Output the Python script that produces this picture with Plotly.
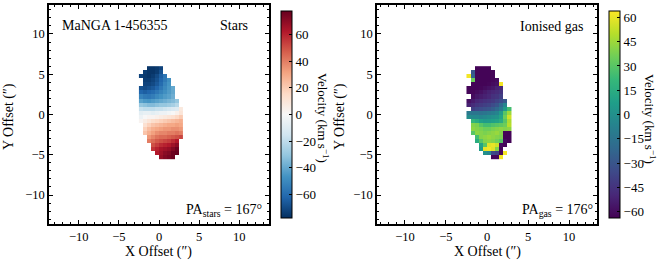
import plotly.graph_objects as go

N = None
# spaxel centres (arcsec)
X_OFFSETS = [-2.25, -1.75, -1.25, -0.75, -0.25, 0.25, 0.75, 1.25, 1.75, 2.25, 2.75]
Y_OFFSETS = [5.75, 5.25, 4.75, 4.25, 3.75, 3.25, 2.75, 2.25, 1.75, 1.25, 0.75, 0.25,
             -0.25, -0.75, -1.25, -1.75, -2.25, -2.75, -3.25, -3.75, -4.25, -4.75, -5.25]

# stellar velocity map (km/s), rows top -> bottom
STARS_V = [
    [N, N, -76, -76, -75, -72, N, N, N, N, N],
    [N, -74, -76, -76, -74, -68, N, N, N, N, N],
    [-72, -75, -76, -74, -70, -64, -56, N, N, N, N],
    [N, -74, -74, -72, -68, -62, -55, -48, N, N, N],
    [N, -72, -72, -70, -66, -60, -52, -46, N, N, N],
    [-68, -70, -68, -66, -62, -56, -50, -45, -40, N, N],
    [-62, -64, -62, -60, -56, -52, -48, -44, -40, N, N],
    [-52, -55, -56, -54, -50, -47, -44, -42, -38, N, N],
    [-42, -45, -46, -44, -42, -40, -38, -36, -34, -30, N],
    [-30, -32, -34, -34, -32, -30, -30, -28, -26, -22, N],
    [-18, -20, -20, -20, -18, -18, -16, -14, -12, -10, 8],
    [-8, -6, -6, -8, -6, -4, -4, -2, 0, 4, 10],
    [-4, 0, 2, 2, 4, 6, 8, 10, 12, 16, 20],
    [2, 6, 10, 14, 16, 18, 20, 22, 24, 26, 28],
    [N, 12, 18, 22, 24, 26, 28, 30, 30, 32, 30],
    [N, 18, 24, 28, 30, 32, 34, 34, 36, 36, 34],
    [N, 22, 28, 32, 36, 38, 38, 40, 40, 42, 40],
    [N, N, 34, 38, 42, 44, 44, 46, 48, 50, 52],
    [N, N, 40, 44, 48, 50, 52, 54, 58, 62, N],
    [N, N, N, 50, 54, 58, 60, 62, 66, 70, N],
    [N, N, N, 56, 60, 64, 66, 68, 72, 76, N],
    [N, N, N, N, 62, 66, 70, 72, 76, 78, N],
    [N, N, N, N, N, 68, 72, 74, 76, N, N],
]

# ionised gas velocity map (km/s), rows top -> bottom
GAS_V = [
    [N, N, -63, -63, -63, -63, N, N, N, N, N],
    [N, -30, -63, -63, -63, -63, -62, N, N, N, N],
    [62, -25, -63, -63, -63, -63, -62, N, N, N, N],
    [N, 35, -63, -63, -63, -63, -62, -60, N, N, N],
    [N, -63, -63, -63, -63, -62, -60, -58, 62, N, N],
    [-63, -63, -63, -62, -60, -58, -56, -52, -50, N, N],
    [-62, -62, -60, -58, -55, -52, -50, -48, -45, N, N],
    [N, -60, -56, -54, -52, -50, -46, -44, -40, N, N],
    [-58, -54, -50, -48, -46, -44, -42, -38, -34, -28, N],
    [-52, -48, -44, -42, -40, -38, -34, -30, -20, -5, N],
    [N, -40, -36, -34, -32, -30, -26, -20, -12, 5, 25],
    [-12, -14, -14, -16, -14, -12, -10, -6, 5, 30, 45],
    [-2, -4, -4, -6, -4, -2, 0, 2, 10, 35, 55],
    [N, 20, 15, 8, 5, 6, 8, 10, 15, 30, 48],
    [N, 40, 38, 30, 25, 25, 28, 30, 32, 35, 50],
    [N, 42, 40, 38, 35, 35, 38, 40, 42, 40, 42],
    [N, 30, 42, 40, 38, 40, 42, 44, 40, -62, -63],
    [N, N, 25, 40, 42, 44, 42, 40, 38, -63, -63],
    [N, N, 15, 30, 40, 42, 40, 36, 30, -60, -63],
    [N, N, N, 10, 30, 58, 60, 55, -60, -62, N],
    [N, N, N, 5, 60, 62, 58, 40, -62, N, N],
    [N, N, N, N, 0, -5, -35, -40, -62, 62, N],
    [N, N, N, N, N, N, -62, -62, 62, N, N],
]

STARS_RANGE = [-77.5, 77.5]
GAS_RANGE = [-64, 64]
STARS_CB_TICKS = [-60, -40, -20, 0, 20, 40, 60]
GAS_CB_TICKS = [-60, -45, -30, -15, 0, 15, 30, 45, 60]
AXIS_TICKS = [-10, -5, 0, 5, 10]

RDBU_R = ["#053061", "#2166ac", "#4393c3", "#92c5de", "#d1e5f0", "#f7f7f7",
          "#fddbc7", "#f4a582", "#d6604d", "#b2182b", "#67001f"]
rdbu_scale = [[i / (len(RDBU_R) - 1), c] for i, c in enumerate(RDBU_R)]

W, H = 664, 265
FONT = "Liberation Serif"


def px_x(p):
    return p / W


def px_y(p):
    return 1 - p / H


fig = go.Figure()

cb_common = dict(
    thickness=11, thicknessmode="pixels", lenmode="fraction",
    len=(218 - 11) / H, y=px_y((11 + 218) / 2), yanchor="middle",
    xanchor="left", xpad=0, ypad=0, outlinewidth=1, outlinecolor="black",
    ticks="inside", ticklen=3, tickcolor="black",
    tickfont=dict(family=FONT, size=13, color="black"),
)

fig.add_trace(go.Heatmap(
    z=STARS_V, x=X_OFFSETS, y=Y_OFFSETS, colorscale=rdbu_scale,
    zmin=STARS_RANGE[0], zmax=STARS_RANGE[1], xaxis="x", yaxis="y",
    colorbar=dict(x=px_x(281), tickvals=STARS_CB_TICKS, **cb_common),
    hoverongaps=False,
))
fig.add_trace(go.Heatmap(
    z=GAS_V, x=X_OFFSETS, y=Y_OFFSETS, colorscale="Viridis",
    zmin=GAS_RANGE[0], zmax=GAS_RANGE[1], xaxis="x2", yaxis="y2",
    colorbar=dict(x=px_x(609), tickvals=GAS_CB_TICKS, **cb_common),
    hoverongaps=False,
))

ax_common = dict(
    showline=True, linecolor="black", linewidth=1.5, mirror="allticks",
    ticks="inside", ticklen=4, tickcolor="black", tickwidth=1,
    tickvals=AXIS_TICKS, showgrid=False, zeroline=False, automargin=False,
    tickfont=dict(family=FONT, size=12.5, color="black"),
    minor=dict(dtick=1, ticks="inside", ticklen=2, tickcolor="black", showgrid=False),
)

ydom = [px_y(224), px_y(5)]
fig.update_layout(
    width=W, height=H, margin=dict(l=0, r=0, t=0, b=0, autoexpand=False),
    paper_bgcolor="white", plot_bgcolor="white",
    font=dict(family=FONT, color="black"),
    xaxis=dict(domain=[px_x(49), px_x(269)], range=[-13.7, 13.7], anchor="y", **ax_common),
    yaxis=dict(domain=ydom, range=[-13.6, 13.6], anchor="x", **ax_common),
    xaxis2=dict(domain=[px_x(377), px_x(597)], range=[-13.4, 13.4], anchor="y2", **ax_common),
    yaxis2=dict(domain=ydom, range=[-13.6, 13.6], anchor="x2", **ax_common),
    showlegend=False,
)

ann = []


def txt(x, y, s, size=14, xanchor="center", angle=0):
    ann.append(dict(x=px_x(x), y=px_y(y), xref="paper", yref="paper", text=s,
                    showarrow=False, xanchor=xanchor, yanchor="middle",
                    textangle=angle, font=dict(family=FONT, size=size, color="black")))


# panel labels
txt(60, 26, "MaNGA 1-456355", xanchor="left")
txt(250, 26, "Stars", xanchor="right")
txt(264, 210, "PA<sub>stars</sub> = 167°", xanchor="right")
txt(585, 27, "Ionised gas", xanchor="right")
txt(595, 210, "PA<sub>gas</sub> = 176°", xanchor="right")

# axis titles
txt(158, 252, "X Offset (″)", size=14)
txt(487, 252, "X Offset (″)", size=14)
txt(9, 117, "Y Offset (″)", size=14, angle=-90)
txt(340, 117, "Y Offset (″)", size=14, angle=-90)

# colorbar titles
txt(323, 118, "Velocity (km s<sup>−1</sup>)", size=13, angle=90)
txt(650, 119, "Velocity (km s<sup>−1</sup>)", size=13, angle=90)

fig.update_layout(annotations=ann)
fig.write_html(
    "out.html",
    config={"displayModeBar": False},
    post_script="document.body.style.margin='0';document.body.style.overflow='hidden';",
)
